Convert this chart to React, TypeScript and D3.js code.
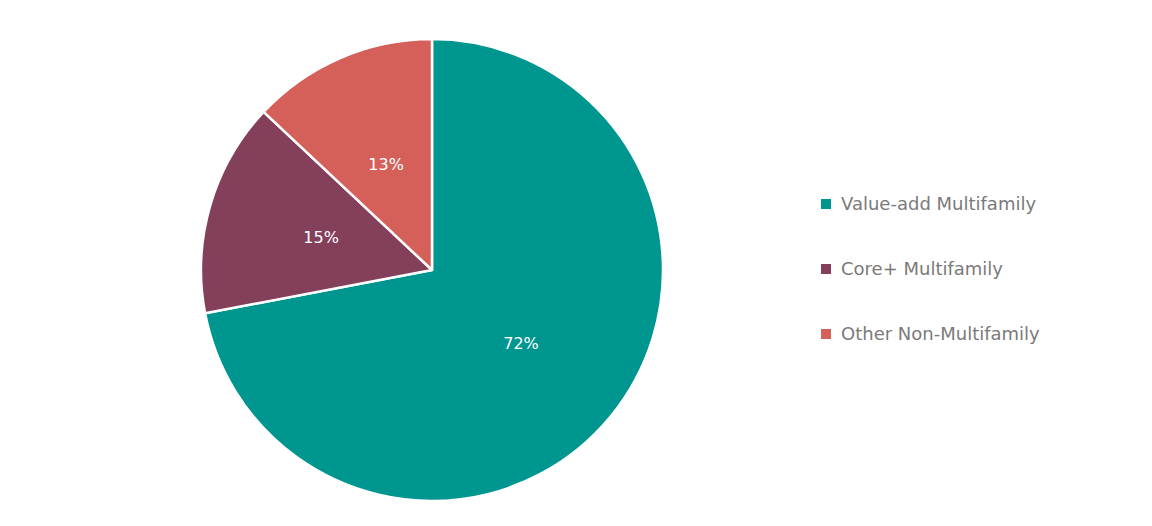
import { useEffect, useRef } from 'react';
import * as d3 from 'd3';

const categories = ['Value-add Multifamily', 'Core+ Multifamily', 'Other Non-Multifamily'];
const shares = [72, 15, 13];
const COLORS = ['#009690', '#843f5a', '#d5605a'];

const WIDTH = 1152;
const HEIGHT = 526;
const FONT = '"DejaVu Sans", "Open Sans", sans-serif';

export default function App() {
  const svgRef = useRef<SVGSVGElement>(null);

  useEffect(() => {
    if (!svgRef.current) return;
    const svg = d3.select(svgRef.current);
    svg.selectAll('*').remove();

    const cx = 432;
    const cy = 270;
    const radius = 231;

    const data = categories.map((c, i) => ({ label: c, value: shares[i] }));

    const pie = d3
      .pie<{ label: string; value: number }>()
      .value((d) => d.value)
      .sort(null);
    const arc = d3
      .arc<d3.PieArcDatum<{ label: string; value: number }>>()
      .innerRadius(0)
      .outerRadius(radius);

    const g = svg.append('g').attr('transform', `translate(${cx},${cy})`);
    const arcs = pie(data);

    g.selectAll('path')
      .data(arcs)
      .enter()
      .append('path')
      .attr('d', arc)
      .attr('fill', (_, i) => COLORS[i])
      .attr('stroke', '#ffffff')
      .attr('stroke-width', 2.5)
      .attr('stroke-linejoin', 'round');

    g.selectAll('text.label')
      .data(arcs)
      .enter()
      .append('text')
      .attr('class', 'label')
      .attr('transform', (d) => `translate(${arc.centroid(d)})`)
      .attr('text-anchor', 'middle')
      .attr('dy', '0.35em')
      .attr('fill', '#ffffff')
      .style('font-family', FONT)
      .style('font-size', '16px')
      .text((d) => `${d.data.value}%`);

    // Legend
    const legend = svg.append('g').attr('transform', 'translate(821, 204)');
    categories.forEach((c, i) => {
      const row = legend.append('g').attr('transform', `translate(0, ${i * 65})`);
      row
        .append('rect')
        .attr('x', 0)
        .attr('y', -5)
        .attr('width', 10)
        .attr('height', 10)
        .attr('fill', COLORS[i]);
      row
        .append('text')
        .attr('x', 20)
        .attr('y', 0)
        .attr('dy', '0.35em')
        .attr('fill', '#7a7a7a')
        .style('font-family', FONT)
        .style('font-size', '18px')
        .text(c);
    });
  }, []);

  return (
    <svg
      ref={svgRef}
      width={WIDTH}
      height={HEIGHT}
      style={{ position: 'absolute', left: 0, top: 0, background: '#ffffff' }}
    />
  );
}
